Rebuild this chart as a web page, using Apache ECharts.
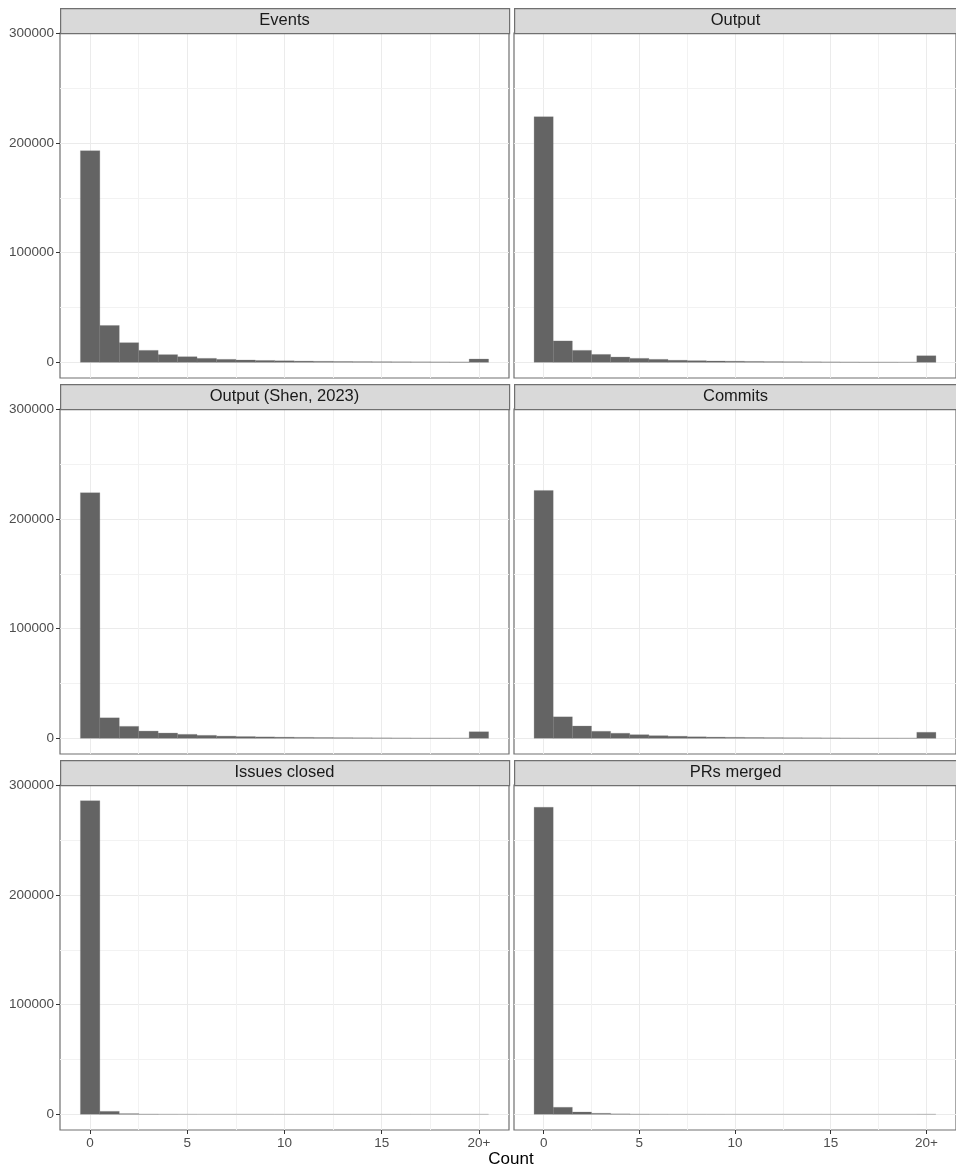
<!DOCTYPE html>
<html>
<head>
<meta charset="utf-8">
<script src="https://cdn.jsdelivr.net/npm/echarts@6/dist/echarts.min.js"></script>
<style>
html,body{margin:0;padding:0;background:#fff;}
#c{width:956px;height:1169px;}
</style>
</head>
<body>
<div id="c"></div>
<script>
// ---- data ----
const panelTitles = ["Events", "Output", "Output (Shen, 2023)", "Commits", "Issues closed", "PRs merged"];
const binLabels = [0,1,2,3,4,5,6,7,8,9,10,11,12,13,14,15,16,17,18,19,20]; // 20 = "20+"
const xTickValues = [0, 5, 10, 15, 20];
const yTickValues = [0, 100000, 200000, 300000];
const xMinorValues = [2.5, 7.5, 12.5, 17.5];
const yMinorValues = [50000, 150000, 250000];

const events  = [193000, 33600, 17900, 10900, 7000, 5100, 3600, 2700, 2100, 1700, 1400, 1100, 900, 750, 650, 550, 480, 420, 370, 320, 3000];
const output  = [224000, 19500, 10900, 7200, 4800, 3600, 2700, 1900, 1500, 1200, 1000, 800, 650, 550, 450, 380, 320, 280, 240, 200, 6000];
const shen    = [224000, 18700, 10900, 6600, 4800, 3600, 2700, 2000, 1600, 1300, 1050, 850, 700, 580, 480, 400, 340, 290, 250, 210, 6000];
const commits = [226000, 19600, 11200, 6400, 4600, 3300, 2400, 1900, 1400, 1100, 900, 750, 620, 520, 440, 370, 320, 270, 230, 200, 5500];
const issues  = [286000, 2700, 600, 200, 90, 45, 25, 15, 10, 6, 4, 3, 2, 2, 1, 1, 1, 1, 0, 0, 5];
const prs     = [280000, 6400, 2100, 900, 400, 200, 110, 70, 45, 30, 20, 15, 10, 8, 6, 5, 4, 3, 3, 2, 30];

const panelData = [events, output, shen, commits, issues, prs];

// ---- layout ----
const FONT = "Liberation Sans, Arial, Helvetica, sans-serif";
const colLeft = [60, 514];
const panelW = 449;
const rowTop = [33, 409, 785];
const panelH = 345;
const stripH = 25;

let allMax = 0;
panelData.forEach(d => d.forEach(v => { if (v > allMax) allMax = v; }));
const yMax = allMax * 1.05, yMin = -allMax * 0.05;
const xMin = -0.5 - 21 * 0.05, xMax = 20.5 + 21 * 0.05;

const grids = [], xAxes = [], yAxes = [], series = [], graphics = [];

panelData.forEach((d, i) => {
  const row = Math.floor(i / 2), col = i % 2;
  const left = colLeft[col], top = rowTop[row];
  grids.push({
    left: left, top: top, width: panelW, height: panelH,
    show: true, borderColor: '#707070', borderWidth: 1.2, backgroundColor: '#ffffff'
  });
  const bottomRow = row === 2, leftCol = col === 0;
  xAxes.push({
    gridIndex: i, type: 'value', min: xMin, max: xMax, position: 'bottom',
    axisLine: { show: false, onZero: false },
    axisTick: { show: bottomRow, customValues: xTickValues, length: 4, lineStyle: { color: '#333333' } },
    axisLabel: { show: bottomRow, customValues: xTickValues, color: '#4D4D4D', fontSize: 13.5, fontFamily: FONT, margin: 6,
      formatter: v => (v === 20 ? '20+' : String(v)) },
    splitLine: { show: true, lineStyle: { color: '#EBEBEB', width: 1 } }
  });
  yAxes.push({
    gridIndex: i, type: 'value', min: yMin, max: yMax, position: 'left',
    axisLine: { show: false, onZero: false },
    axisTick: { show: leftCol, customValues: yTickValues, length: 4, lineStyle: { color: '#333333' } },
    axisLabel: { show: leftCol, customValues: yTickValues, color: '#4D4D4D', fontSize: 13.5, fontFamily: FONT, margin: 6,
      formatter: v => String(v) },
    splitLine: { show: true, lineStyle: { color: '#EBEBEB', width: 1 } }
  });
  // minor gridlines
  series.push({
    type: 'line', xAxisIndex: i, yAxisIndex: i, data: [], z: 1, silent: true,
    markLine: {
      silent: true, symbol: 'none', label: { show: false }, animation: false,
      lineStyle: { color: '#F2F2F2', width: 1, type: 'solid' },
      emphasis: { disabled: true },
      data: xMinorValues.map(v => ({ xAxis: v })).concat(yMinorValues.map(v => ({ yAxis: v })))
    }
  });
  // histogram bars
  series.push({
    type: 'custom', xAxisIndex: i, yAxisIndex: i, z: 5, silent: true,
    data: binLabels.map((b, k) => [b, d[k]]),
    renderItem: (params, api) => {
      const x = api.value(0), y = api.value(1);
      const p0 = api.coord([x - 0.5, y]);
      const p1 = api.coord([x + 0.5, 0]);
      return {
        type: 'rect',
        shape: { x: p0[0], y: p0[1], width: p1[0] - p0[0], height: p1[1] - p0[1] },
        style: { fill: '#646464', stroke: 'rgba(120,120,120,0.6)', lineWidth: 0.4 }
      };
    },
    animation: false
  });
  // strip
  graphics.push({
    type: 'rect', left: left, top: top - stripH, z: 10,
    shape: { width: panelW, height: stripH },
    style: { fill: '#D9D9D9', stroke: '#707070', lineWidth: 1.2 }
  });
  graphics.push({
    type: 'text', z: 11,
    x: left + panelW / 2 - (col === 1 ? 3 : 0), y: top - stripH / 2,
    style: { text: panelTitles[i], fill: '#1A1A1A', font: '16.5px ' + FONT, textAlign: 'center', textVerticalAlign: 'middle' }
  });
});

graphics.push({
  type: 'text', z: 11, x: 511, y: 1159,
  style: { text: 'Count', fill: '#000000', font: '17px ' + FONT, textAlign: 'center', textVerticalAlign: 'middle' }
});

const chart = echarts.init(document.getElementById('c'), null, { renderer: 'canvas' });
chart.setOption({
  backgroundColor: '#ffffff',
  animation: false,
  grid: grids,
  xAxis: xAxes,
  yAxis: yAxes,
  series: series,
  graphic: graphics
});
</script>
</body>
</html>
